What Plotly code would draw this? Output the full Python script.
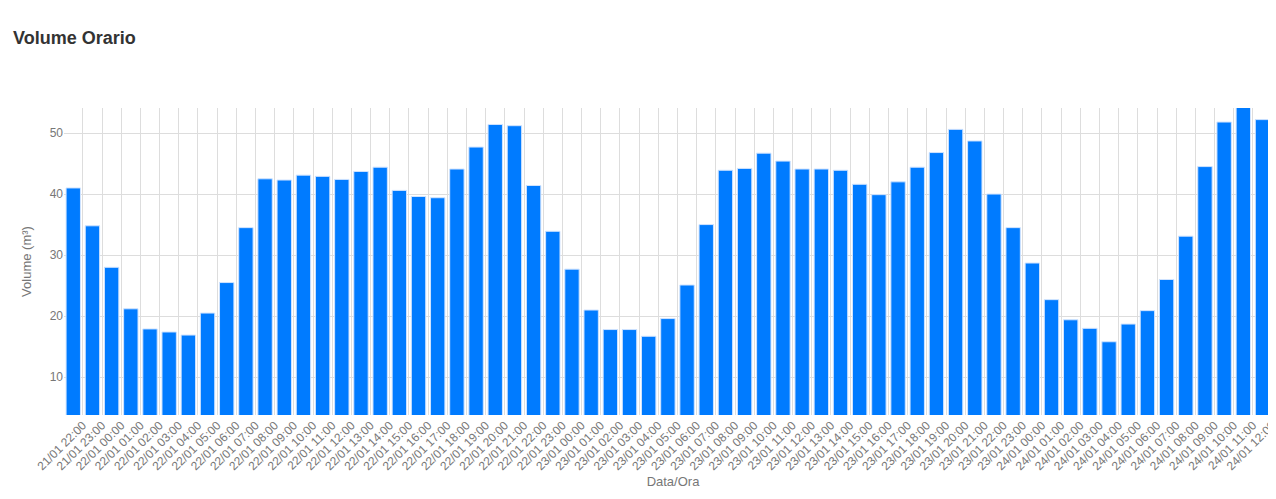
import plotly.graph_objects as go
import pandas as pd

start = "2025-01-21 21:00"
volumes = [41, 34.8, 28, 21.2, 17.9, 17.4, 16.9, 20.5, 25.5, 34.5, 42.5, 42.3, 43.1, 42.9, 42.4, 43.7,
           44.4, 40.6, 39.6, 39.4, 44.1, 47.7, 51.4, 51.2, 41.4, 33.9, 27.7, 21.0, 17.8, 17.8, 16.7, 19.6,
           25.1, 35.0, 43.9, 44.2, 46.7, 45.4, 44.1, 44.1, 43.9, 41.6, 39.9, 42.0, 44.4, 46.8, 50.6, 48.7,
           40.0, 34.5, 28.7, 22.7, 19.4, 18.0, 15.8, 18.7, 20.9, 26.0, 33.1, 44.5, 51.8, 54.3, 52.2, 50.4]
hours = pd.date_range(start, periods=len(volumes), freq="h")

fig = go.Figure(go.Bar(x=hours, y=volumes, marker=dict(color="#007bff", line=dict(color="#cfe3ff", width=1)),
                       xperiod=3600000, xperiodalignment="middle"))
font = "Liberation Sans, Arial, sans-serif"
fig.update_layout(
    width=1276, height=499, plot_bgcolor="white", paper_bgcolor="white",
    font=dict(family=font, color="#777", size=12),
    title=dict(text="<b>Volume Orario</b>", x=0, xref="container", xanchor="left", pad=dict(l=5),
               y=0.94, yanchor="middle", font=dict(size=18, color="#333")),
    margin=dict(l=56, r=2, t=100, b=92), bargap=0.25, showlegend=False,
    xaxis=dict(title=dict(text="Data/Ora", standoff=4, font=dict(size=13)),
               range=["2025-01-21 21:01", "2025-01-24 12:31"], automargin=False,
               dtick=3600000, tickformat="%d/%m %H:%M", tickangle=-45, tickfont=dict(size=12),
               showgrid=True, gridcolor="#ddd"),
    yaxis=dict(title=dict(text="Volume (m³)", font=dict(size=13)), range=[3.8, 54.1], dtick=10,
               showgrid=True, automargin=False, gridcolor="#ddd", zeroline=False),
)
fig.write_html("out.html")
